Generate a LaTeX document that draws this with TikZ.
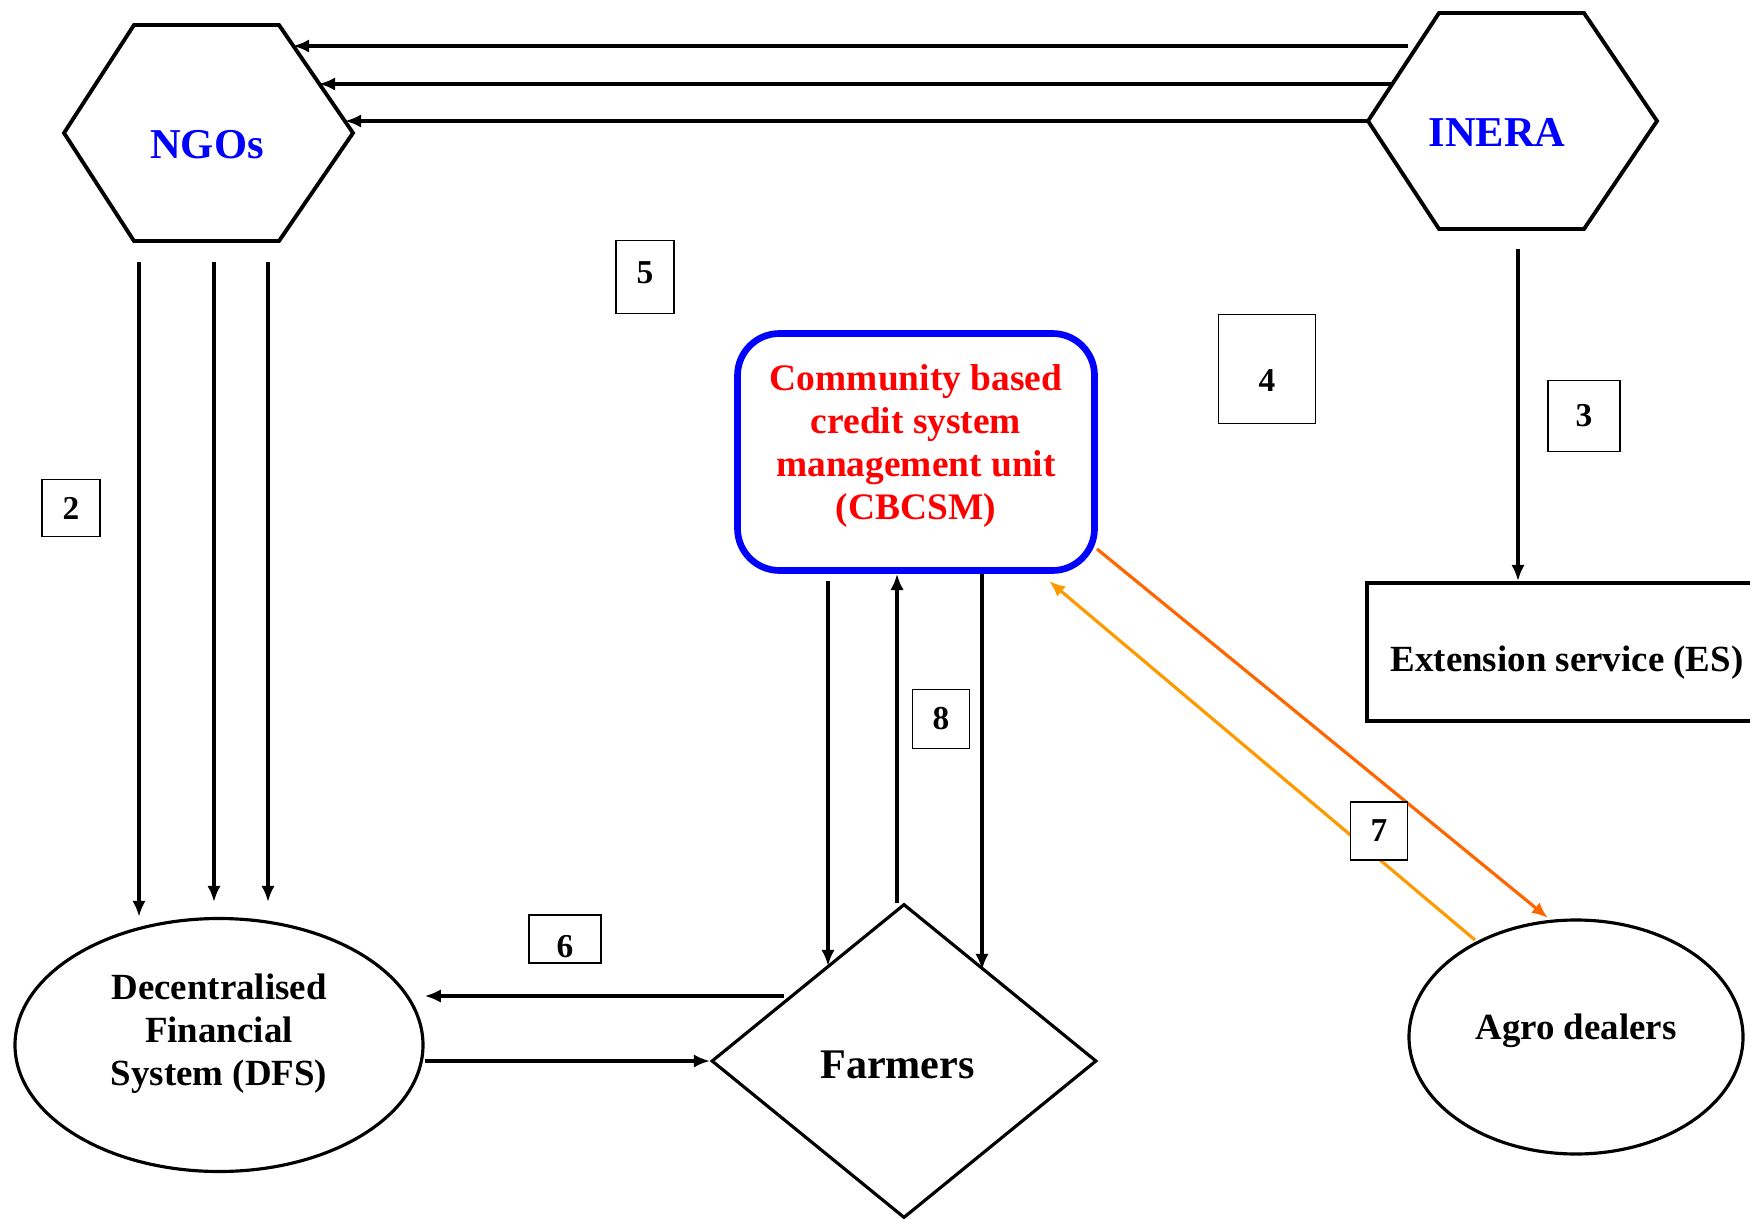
\documentclass[tikz,border=0pt]{standalone}
\usepackage{fontspec}
\setmainfont{Liberation Serif}
\usetikzlibrary{shapes.geometric,arrows.meta}
\definecolor{dealorange}{HTML}{FF6600}
\definecolor{creditorange}{HTML}{FF9900}

\begin{document}
\begin{tikzpicture}[
  arr/.style={line width=0.9pt,-{Latex[length=4.6pt,width=3.8pt]}},
  numbox/.style={draw,line width=0.45pt,fill=white,inner sep=0pt,font=\fontsize{9.5}{11}\selectfont\bfseries},
  hexline/.style={line width=1.1pt,line join=miter},
  hextext/.style={text=blue,font=\fontsize{12.1}{14}\selectfont\bfseries}]
\useasboundingbox (0,0) rectangle (17.5,-12.19);
\clip (0,0) rectangle (17.5,-12.19);

% hexagons
\draw[hexline] (0.64,-1.33) -- (1.34,-0.25) -- (2.79,-0.25) -- (3.53,-1.33) -- (2.79,-2.41) -- (1.34,-2.41) -- cycle;
\node[hextext] (NGOs) at (2.07,-1.45) {NGOs};
\draw[hexline] (13.68,-1.21) -- (14.39,-0.13) -- (15.84,-0.13) -- (16.57,-1.21) -- (15.84,-2.29) -- (14.39,-2.29) -- cycle;
\node[hextext] (INERA) at (14.97,-1.32) {INERA};

% main boxes
\node[draw=blue,line width=1.9pt,rounded corners=0.42cm,minimum width=3.57cm,minimum height=2.37cm,align=center,text=red,font=\fontsize{10.65}{12.2}\selectfont\bfseries,text depth=0.2cm] (CBCSM) at (9.16,-4.52) {Community based\\credit system\\management unit\\(CBCSM)};
\node[draw,line width=1.1pt,minimum width=4cm,minimum height=1.38cm,font=\fontsize{10.5}{12.2}\selectfont\bfseries,text height=0.47cm] (ES) at (15.67,-6.52) {Extension service (ES)};
\node[draw,ellipse,line width=0.9pt,minimum width=4.08cm,minimum height=2.53cm,align=center,font=\fontsize{10.5}{12.2}\selectfont\bfseries,text depth=0.31cm] (DFS) at (2.19,-10.45) {Decentralised\\Financial\\System (DFS)};
\node[draw,diamond,line width=0.9pt,inner sep=0pt,minimum width=3.85cm,minimum height=3.14cm,font=\fontsize{12}{14}\selectfont\bfseries,text height=0.35cm] (Farmers) at (9.04,-10.61) {Farmers\hspace*{0.13cm}};
\node[draw,ellipse,line width=0.9pt,minimum width=3.34cm,minimum height=2.34cm,font=\fontsize{10.5}{12.2}\selectfont\bfseries,text depth=0.2cm] (Agro) at (15.76,-10.37) {Agro dealers};

% INERA to NGOs
\coordinate (INERA-o1) at (14.08,-0.46);
\coordinate (INERA-o2) at (13.92,-0.84);
\coordinate (INERA-o3) at (13.68,-1.21);
\coordinate (NGOs-i1) at (2.93,-0.46);
\coordinate (NGOs-i2) at (3.19,-0.84);
\coordinate (NGOs-i3) at (3.45,-1.21);
\draw[arr] (INERA-o1) -- (NGOs-i1);
\draw[arr] (INERA-o2) -- (NGOs-i2);
\draw[arr] (INERA-o3) -- (NGOs-i3);

% NGOs to DFS
\coordinate (NGOs-s1) at (1.39,-2.62);
\coordinate (NGOs-s2) at (2.14,-2.62);
\coordinate (NGOs-s3) at (2.68,-2.62);
\coordinate (DFS-n2) at (2.14,-9.02);
\coordinate (DFS-n3) at (2.68,-9.02);
\draw[arr] (NGOs-s1) -- (NGOs-s1 |- DFS.north);
\draw[arr] (NGOs-s2) -- (DFS-n2);
\draw[arr] (NGOs-s3) -- (DFS-n3);

% INERA to ES
\coordinate (INERA-s) at (15.18,-2.49);
\draw[arr] (INERA-s) -- (INERA-s |- ES.north);

% CBCSM and Farmers
\coordinate (CBCSM-s1) at (8.28,-5.81);
\coordinate (Farmers-n1) at (8.28,-9.66);
\coordinate (Farmers-n2) at (9.82,-9.70);
\coordinate (Farmers-top) at (8.97,-9.03);
\draw[arr] (CBCSM-s1) -- (Farmers-n1);
\draw[arr] (Farmers-top) -- (Farmers-top |- CBCSM.south);
\draw[arr] (Farmers-n2 |- CBCSM.south) -- (Farmers-n2);

% Farmers and DFS
\coordinate (Farmers-w1) at (7.84,-9.96);
\draw[arr] (Farmers-w1) -- (Farmers-w1 -| DFS.east);
\draw[arr] (DFS.east |- Farmers.west) -- (Farmers.west);

% CBCSM and Agro dealers
\coordinate (CBCSM-se) at (10.97,-5.49);
\coordinate (CBCSM-s3) at (10.49,-5.81);
\coordinate (Agro-nw1) at (15.48,-9.18);
\coordinate (Agro-nw2) at (14.75,-9.40);
\draw[arr,color=dealorange] (CBCSM-se) -- (Agro-nw1);
\draw[arr,color=creditorange] (Agro-nw2) -- (CBCSM-s3);

% numbers
\node[numbox,minimum width=0.58cm,minimum height=0.57cm] (L2) at (0.71,-5.08) {2};
\node[numbox,minimum width=0.72cm,minimum height=0.71cm] (L3) at (15.84,-4.16) {3};
\node[numbox,minimum width=0.97cm,minimum height=1.09cm,text height=0.45cm] (L4) at (12.67,-3.69) {4};
\node[numbox,minimum width=0.58cm,minimum height=0.73cm,text depth=0.09cm] (L5) at (6.45,-2.77) {5};
\node[numbox,minimum width=0.72cm,minimum height=0.48cm,text height=0.37cm] (L6) at (5.65,-9.39) {6};
\node[numbox,minimum width=0.57cm,minimum height=0.58cm] (L7) at (13.79,-8.31) {7};
\node[numbox,minimum width=0.57cm,minimum height=0.59cm] (L8) at (9.41,-7.19) {8};
\end{tikzpicture}
\end{document}
